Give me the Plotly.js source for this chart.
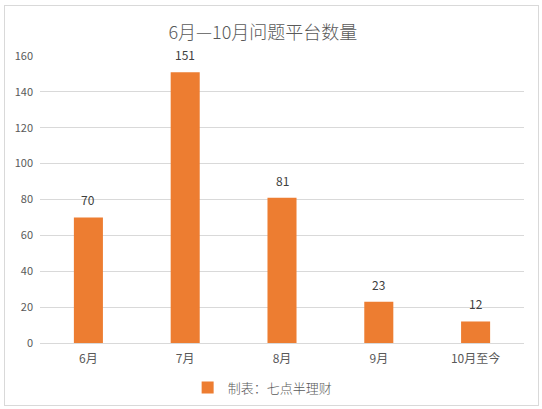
<!DOCTYPE html>
<html>
<head>
<meta charset="utf-8">
<script src="https://cdn.plot.ly/plotly-3.0.1.min.js"></script>
<style>
  body { margin: 0; background: #fff; }
  #chart { width: 542px; height: 409px; }
  #frame { position: absolute; left: 4px; top: 5px; width: 533px; height: 399px;
           border: 1px solid #d9d9d9; pointer-events: none; }
</style>
</head>
<body>
<div id="chart"></div>
<div id="frame"></div>
<script>
const categories = ['6月', '7月', '8月', '9月', '10月至今'];
const counts = [70, 151, 81, 23, 12];
const yTicks = [0, 20, 40, 60, 80, 100, 120, 140, 160];

function plotChart() {
    let barTrace = {
        type: 'bar',
        x: categories,
        y: counts,
        name: '制表：七点半理财',
        marker: { color: '#ED7D31' },
        hoverinfo: 'x+y'
    };

    // value labels sit a bit higher above the bars than plotly's outside text
    const valueLabels = categories.map((c, i) => ({
        x: c,
        y: counts[i],
        xref: 'x',
        yref: 'y',
        text: String(counts[i]),
        showarrow: false,
        yanchor: 'bottom',
        yshift: 7,
        font: { size: 12, color: '#404040' }
    }));

    const layout = {
        width: 542,
        height: 409,
        margin: { l: 40, r: 18, t: 56, b: 66, autoexpand: false },
        paper_bgcolor: '#fff',
        plot_bgcolor: '#fff',
        font: { family: '"Noto Sans CJK SC", "Noto Sans", sans-serif', color: '#595959', size: 11 },
        title: {
            text: '6月—10月问题平台数量',
            font: { size: 18, color: '#595959', weight: 300 },
            x: 0.485,
            xref: 'container',
            y: 0.935,
            yref: 'container',
            xanchor: 'center'
        },
        bargap: 0.7,
        showlegend: true,
        legend: {
            orientation: 'h',
            x: 0.46,
            xanchor: 'center',
            y: -0.155,
            yanchor: 'middle',
            font: { size: 13, color: '#595959', weight: 300 }
        },
        annotations: valueLabels,
        xaxis: {
            tickvals: categories,
            ticks: '',
            showline: false,
            showgrid: false,
            tickfont: { size: 12, color: '#595959' },
            ticklabelstandoff: 7
        },
        yaxis: {
            range: [0, 160],
            tickvals: yTicks,
            ticks: '',
            showline: false,
            gridcolor: '#d9d9d9',
            gridwidth: 1,
            zeroline: true,
            zerolinecolor: '#d9d9d9',
            zerolinewidth: 1,
            tickfont: { size: 11, color: '#595959' },
            ticklabelstandoff: 6
        }
    };

    Plotly.newPlot('chart', [barTrace], layout, { displayModeBar: false, responsive: false });
}

plotChart();
</script>
</body>
</html>
